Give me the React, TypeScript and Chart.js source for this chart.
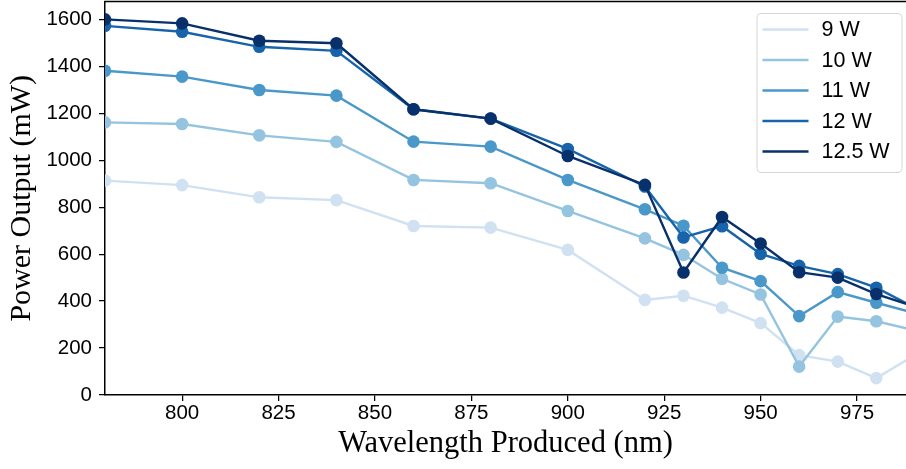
import React, { useEffect, useRef } from "react";
import { Chart, registerables } from "chart.js";

Chart.register(...registerables);

// Wavelength (nm)
const wavelengths = [780, 800, 820, 840, 860, 880, 900, 920, 930, 940, 950, 960, 970, 980, 990];

// Power output (mW) per pump power
const power9W = [913, 894, 842, 830, 720, 713, 618, 405, 423, 372, 306, 170, 142, 72, 170];
const power10W = [1161, 1154, 1106, 1078, 916, 902, 784, 667, 597, 495, 428, 121, 334, 314, 275];
const power11W = [1381, 1356, 1299, 1275, 1079, 1058, 916, 791, 721, 542, 485, 336, 438, 393, 348];
const power12W = [1572, 1547, 1483, 1466, 1217, 1177, 1048, 888, 671, 719, 601, 550, 515, 457, 372];
const power125W = [1600, 1583, 1509, 1498, 1217, 1177, 1018, 895, 522, 758, 645, 523, 500, 430, 376];

const seriesLabels = ["9 W", "10 W", "11 W", "12 W", "12.5 W"];
const seriesValues = [power9W, power10W, power11W, power12W, power125W];
const seriesColors = ["#d0e1f2", "#94c4df", "#4a98c9", "#1764ab", "#08306b"];

const xTicks = [800, 825, 850, 875, 900, 925, 950, 975];
const yTicks = [0, 200, 400, 600, 800, 1000, 1200, 1400, 1600];

const xTitle = "Wavelength Produced (nm)";
const yTitle = "Power Output (mW)";

const SANS = "'Liberation Sans', Arial, sans-serif";
const SERIF = "'Liberation Serif', 'Times New Roman', serif";

const topSpinePlugin = {
  id: "topSpine",
  afterDraw(chart: any) {
    const { ctx, chartArea } = chart;
    ctx.save();
    ctx.strokeStyle = "#000";
    ctx.lineWidth = 1.5;
    ctx.beginPath();
    ctx.moveTo(chartArea.left - 0.75, chartArea.top);
    ctx.lineTo(chartArea.right, chartArea.top);
    ctx.stroke();
    ctx.restore();
  },
};

const boxLegendPlugin = {
  id: "boxLegend",
  afterDraw(chart: any) {
    const { ctx, chartArea } = chart;
    const w = 145;
    const h = 159;
    const x0 = chartArea.right - 4.5 - w;
    const y0 = chartArea.top + 11.5;
    ctx.save();
    ctx.beginPath();
    ctx.roundRect(x0 + 0.5, y0 + 0.5, w, h, 4);
    ctx.fillStyle = "rgba(255,255,255,0.8)";
    ctx.fill();
    ctx.strokeStyle = "#d6d6d6";
    ctx.lineWidth = 1;
    ctx.stroke();
    ctx.font = `21.5px ${SANS}`;
    ctx.textBaseline = "middle";
    ctx.textAlign = "left";
    chart.data.datasets.forEach((ds: any, i: number) => {
      const y = y0 + 16.5 + i * 30.5;
      ctx.strokeStyle = ds.borderColor;
      ctx.lineWidth = 2.4;
      ctx.beginPath();
      ctx.moveTo(x0 + 6, y);
      ctx.lineTo(x0 + 52, y);
      ctx.stroke();
      ctx.fillStyle = "#000";
      ctx.fillText(ds.label, x0 + 65, y + 1);
    });
    ctx.restore();
  },
};

export default function App() {
  const canvasRef = useRef<HTMLCanvasElement | null>(null);

  useEffect(() => {
    const canvas = canvasRef.current;
    if (!canvas) return;
    const datasets = seriesLabels.map((label, i) => ({
      label,
      data: wavelengths.map((x, j) => ({ x, y: seriesValues[i][j] })),
      borderColor: seriesColors[i],
      backgroundColor: seriesColors[i],
      pointBackgroundColor: seriesColors[i],
      pointBorderColor: seriesColors[i],
      borderWidth: 2.4,
      pointRadius: 6.3,
      pointHoverRadius: 6.3,
      pointBorderWidth: 0,
      tension: 0,
      order: seriesLabels.length - i,
    }));

    const chart = new Chart(canvas, {
      type: "line",
      data: { datasets },
      options: {
        responsive: false,
        animation: false,
        events: [],
        layout: { autoPadding: false, padding: { top: 1.5, left: 0, right: 0, bottom: 0 } },
        plugins: {
          legend: { display: false },
          tooltip: { enabled: false },
        },
        scales: {
          x: {
            type: "linear",
            min: 780,
            max: 987.7,
            afterBuildTicks: (scale: any) => {
              scale.ticks = xTicks.map((v) => ({ value: v }));
            },
            afterFit: (scale: any) => {
              scale.height = 74;
              scale.paddingLeft = 0;
              scale.paddingRight = 0;
            },
            ticks: {
              color: "#000",
              font: { family: SANS, size: 20.5 },
              padding: 0,
              maxRotation: 0,
              autoSkip: false,
              callback: (v: any) => String(v),
            },
            grid: {
              drawOnChartArea: false,
              drawTicks: true,
              tickLength: 6,
              color: "#000",
              lineWidth: 1.25,
            },
            border: { color: "#000", width: 1.5 },
            title: {
              display: true,
              text: xTitle,
              color: "#000",
              font: { family: SERIF, size: 30.5 },
              padding: { top: 0, bottom: 7 },
            },
          },
          y: {
            type: "linear",
            min: 0,
            max: 1676,
            afterBuildTicks: (scale: any) => {
              scale.ticks = yTicks.map((v) => ({ value: v }));
            },
            afterFit: (scale: any) => {
              scale.width = 105;
              scale.paddingTop = 0;
              scale.paddingBottom = 0;
            },
            ticks: {
              color: "#000",
              font: { family: SANS, size: 20.5 },
              padding: 7,
              autoSkip: false,
              callback: (v: any) => String(v),
            },
            grid: {
              drawOnChartArea: false,
              drawTicks: true,
              tickLength: 6,
              color: "#000",
              lineWidth: 1.25,
            },
            border: { color: "#000", width: 1.5 },
            title: {
              display: true,
              text: yTitle,
              color: "#000",
              font: { family: SERIF, size: 30 },
              padding: { top: 4, bottom: 0 },
            },
          },
        },
      },
      plugins: [topSpinePlugin, boxLegendPlugin],
    } as any);

    return () => chart.destroy();
  }, []);

  return (
    <div style={{ position: "fixed", left: 0, top: 0, width: 906, height: 469, background: "#fff" }}>
      <canvas ref={canvasRef} width={906} height={469} style={{ display: "block" }} />
    </div>
  );
}
